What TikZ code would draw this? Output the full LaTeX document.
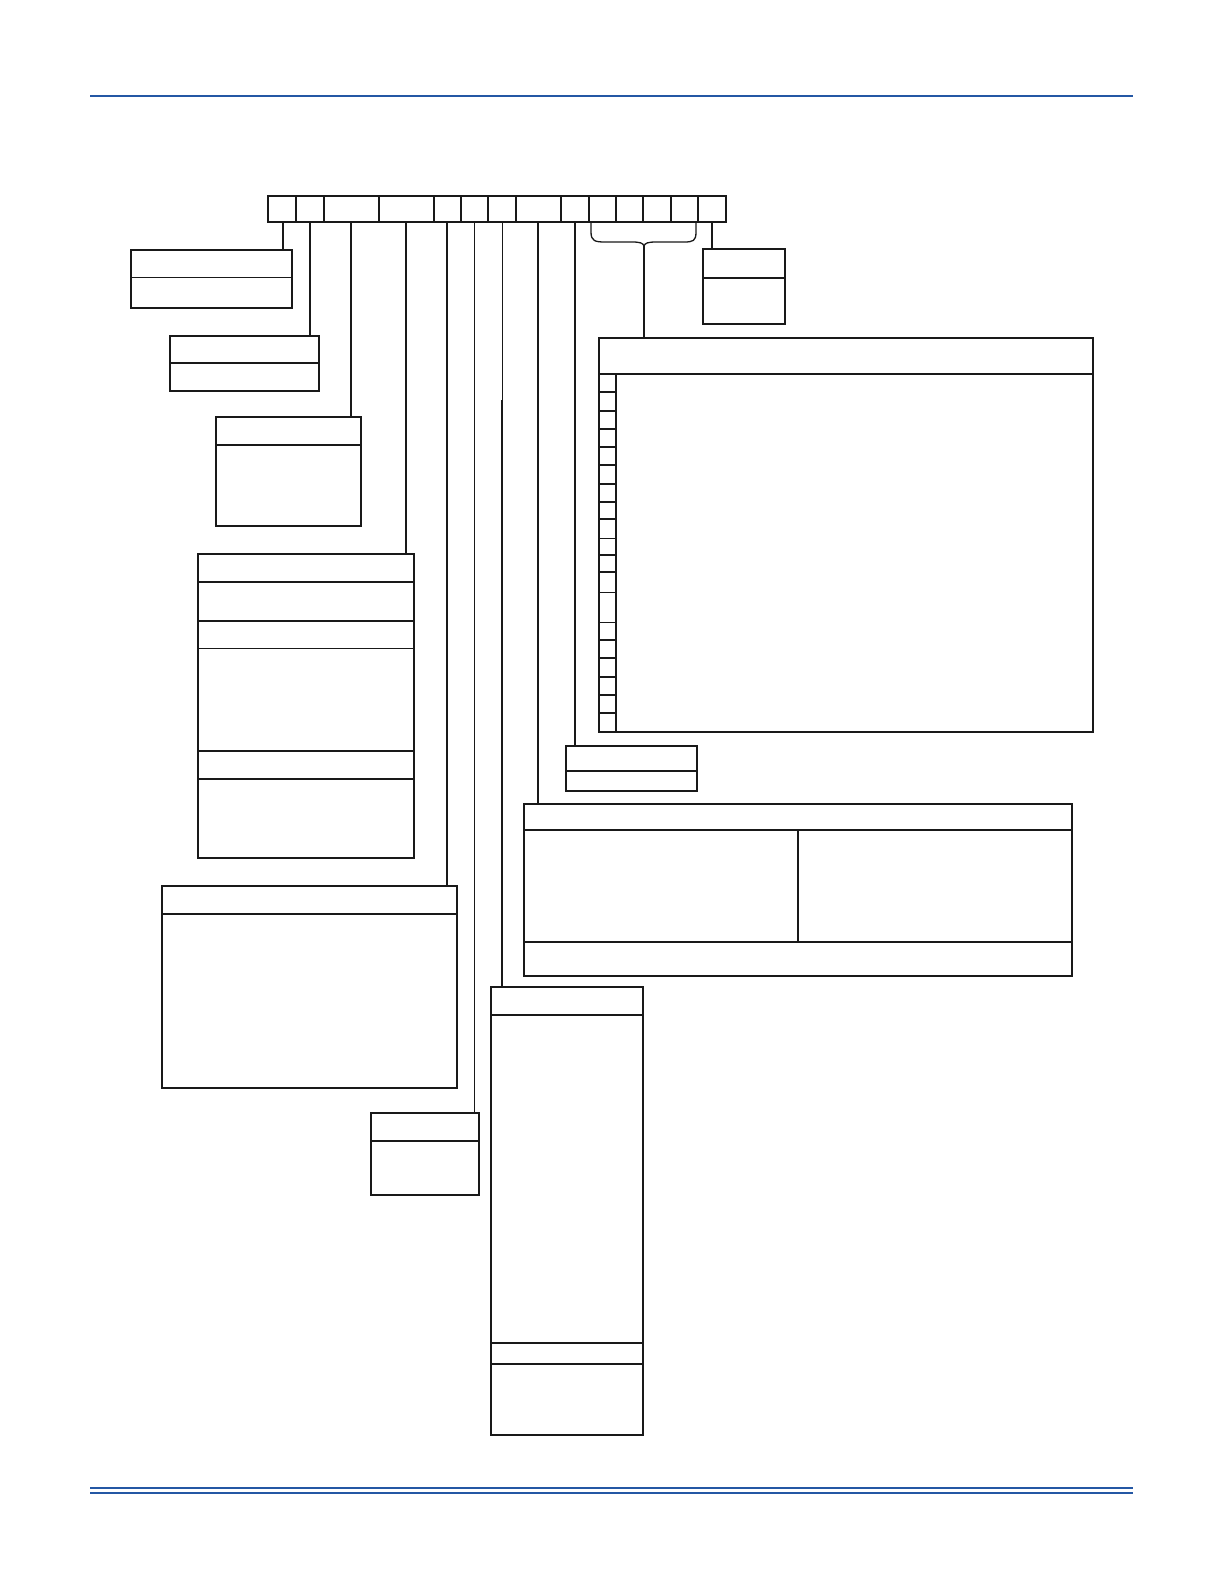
\documentclass[tikz,border=0pt]{standalone}
\usepackage{tikz}
\definecolor{rule}{HTML}{2457A4}
\tikzset{
  box/.style={draw=black!90, line width=1.8pt, rectangle, inner sep=0pt, outer sep=0pt, anchor=north west},
  cell/.style={draw=black!90, line width=1.7pt, rectangle, inner sep=0pt, outer sep=0pt, anchor=north west, minimum height=26pt},
  div/.style={draw=black!90, line width=1.4pt},
  thindiv/.style={draw=black!90, line width=0.8pt},
  conn/.style={draw=black!90, line width=2pt},
  thinconn/.style={draw=black!90, line width=1pt},
}
\newcommand{\mkbox}[5]{\node[box, minimum width=#4pt-#2pt, minimum height=#5pt-#3pt] (#1) at (#2,#3) {};}
\begin{document}
\begin{tikzpicture}[x=1pt,y=-1pt]
\useasboundingbox (0,0) rectangle (1224,1584);
% page rules
\draw[rule, line width=1.3pt] (90,96) -- (1133,96);
\draw[rule, line width=2.2pt] (90,1488) -- (1133,1488);
\draw[rule, line width=1.2pt] (90,1493) -- (1133,1493);
% code strip cells
\foreach \n/\a/\b in {1/268/296,2/296/324,3/324/379,4/379/434,5/434/461,6/461/488,7/488/516,8/516/561,9/561/589,10/589/616,11/616/643,12/643/671,13/671/698,14/698/726}{
  \node[cell, minimum width=\b pt-\a pt] (c\n) at (\a,196) {};
}
% boxes
\mkbox{A}{131}{250}{292}{308}
\mkbox{B}{170}{336}{319}{391}
\mkbox{C}{216}{417}{361}{526}
\mkbox{D}{198}{554}{414}{858}
\mkbox{E}{162}{886}{457}{1088}
\mkbox{F}{371}{1113}{479}{1195}
\mkbox{G}{491}{987}{643}{1435}
\mkbox{H}{524}{804}{1072}{976}
\mkbox{I}{566}{746}{697}{791}
\mkbox{J}{599}{338}{1093}{732}
\mkbox{K}{703}{249}{785}{324}
% dividers
\draw[thindiv] (A.west |- 0,277) -- (A.east |- 0,277);
\draw[div] (B.west |- 0,363) -- (B.east |- 0,363);
\draw[div] (C.west |- 0,445) -- (C.east |- 0,445);
\foreach \y in {582,621,751,779}{\draw[div] (D.west |- 0,\y) -- (D.east |- 0,\y);}
\draw[thindiv] (D.west |- 0,648) -- (D.east |- 0,648);
\draw[div] (E.west |- 0,914) -- (E.east |- 0,914);
\draw[div] (F.west |- 0,1141) -- (F.east |- 0,1141);
\foreach \y in {1015,1343,1364}{\draw[div] (G.west |- 0,\y) -- (G.east |- 0,\y);}
\draw[div] (H.west |- 0,830) -- (H.east |- 0,830);
\draw[div] (H.west |- 0,942) -- (H.east |- 0,942);
\draw[div] (798,830) -- (798,942);
\draw[div] (I.west |- 0,771) -- (I.east |- 0,771);
\draw[div] (K.west |- 0,278) -- (K.east |- 0,278);
% big box J: header and index column
\coordinate (jc) at (616,374);
\draw[div] (J.west |- jc) -- (J.east |- jc);
\draw[div] (jc) -- (jc |- J.south);
\foreach \y in {392,411,429,447,465,484,502,519,555,572,640,658,677,695,713}{\draw[div] (J.west |- 0,\y) -- (616,\y);}
\foreach \y in {538,592,622}{\draw[thindiv] (J.west |- 0,\y) -- (616,\y);}
% connector start points on the code strip
\coordinate (k1) at (283,222);
\coordinate (k2) at (310,222);
\coordinate (k3) at (351,222);
\coordinate (k4) at (406,222);
\coordinate (k5) at (447,222);
\coordinate (k6) at (474,222);
\coordinate (k7) at (502,222);
\coordinate (k8) at (538,222);
\coordinate (k9) at (575,222);
\coordinate (k14) at (712,222);
% connectors
\draw[conn] (k1) -- (k1 |- A.north);
\draw[conn] (k2) -- (k2 |- B.north);
\draw[conn] (k3) -- (k3 |- C.north);
\draw[conn] (k4) -- (k4 |- D.north);
\draw[conn] (k5) -- (k5 |- E.north);
\draw[thinconn] (k6) -- (k6 |- F.north);
\coordinate (g1) at (502,400);
\draw[thinconn] (k7) -- (g1);
\draw[conn] (g1) -- (k7 |- G.north);
\draw[thinconn, line width=1.2pt] (k8) -- (k8 |- H.north);
\draw[conn] (k9) -- (k9 |- I.north);
\draw[conn] (k14) -- (k14 |- K.north);
% brace to J
\coordinate (bt) at (644,246);
\draw[thinconn, line width=1.3pt] (591,222) -- (591,232) .. controls (591,241) and (595,242) .. (605,242) -- (632,242) .. controls (640,242) and (643,243) .. (bt) .. controls (645,243) and (648,242) .. (656,242) -- (684,242) .. controls (693,242) and (696,241) .. (696,232) -- (696,222);
\draw[conn] (bt) -- (bt |- J.north);
\end{tikzpicture}
\end{document}
